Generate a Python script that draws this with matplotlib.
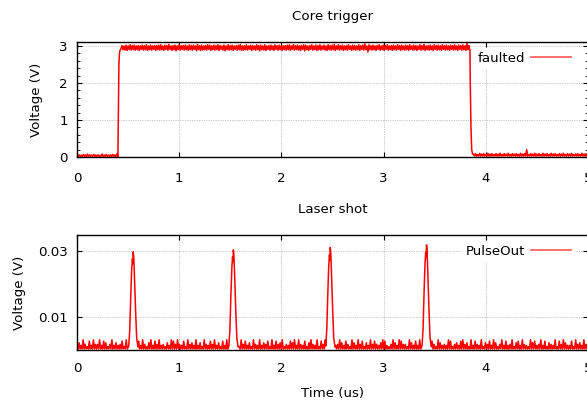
import numpy as np
import matplotlib
matplotlib.use("Agg")
import matplotlib.pyplot as plt
from matplotlib.ticker import MultipleLocator, FixedLocator
from matplotlib.lines import Line2D

plt.rcParams['font.family'] = ['DejaVu Sans']
FS = 9.6

# ---------------- data ----------------
x_ticks = [0, 1, 2, 3, 4, 5]
top_yticks = [0, 1, 2, 3]
bot_yticks = [0.01, 0.03]
bot_yticklabels = ["0.01", "0.03"]

# Core trigger ("faulted"): baseline, rising edge, plateau, falling edge, baseline
pre_span = (0.0, 0.39)
pre_hi_digits = "3425364253 4263524536"
pre_levels = [0.04, 0.045, 0.05, 0.055, 0.06, 0.07, 0.08, 0.09, 0.10, 0.11]
pre_lo = 0.015

rise_t = [0.400, 0.405, 0.410, 0.415, 0.420, 0.430]
rise_v = [0.04, 1.20, 2.50, 2.80, 2.88, 2.93]

plateau_span = (0.44, 3.835)
plat_hi_digits = ("4353645343 5463534456 3547345364 4536453745 3465354643 "
                  "5364534573 4635436453 6345364534 4563745346 5346354635 "
                  "3645736453 4635436458 3645346354 6345364535 4635436473 "
                  "4536453645 3546354639 4")
plat_lo_digits = ("3452434352 4353425343 5242536342 4353426354 3425343524 "
                  "6343524354 3425343634 5243524353 4352434526 3524353424 "
                  "5343524353 4253435243 8343524352 4353425343 5243524353 "
                  "4352435243 5243524353 4")
plat_hi_levels = [2.97, 2.985, 2.995, 3.005, 3.015, 3.025, 3.035, 3.045, 3.06, 3.08]
plat_lo_levels = [2.93, 2.92, 2.91, 2.90, 2.89, 2.88, 2.87, 2.86, 2.84, 2.82]

fall_t = [3.840, 3.848, 3.855, 3.862, 3.870]
fall_v = [2.93, 2.00, 0.80, 0.20, 0.08]

post_span = (3.88, 5.0)
post_hi_digits = ("3425342534 2435243524 3425349243 5342534253 4243524352 "
                  "3425342")
post_levels = [0.05, 0.06, 0.07, 0.08, 0.09, 0.10, 0.11, 0.13, 0.16, 0.20]
post_lo = 0.025

# Laser shot ("PulseOut"): noisy baseline + four pulses
base_span = (0.0, 5.0)
base_hi_digits = ("1315204152 2514302513 1240531521 4152035142 5120315425 "
                  "2140523151 3052142513 0415235120 5241305215 1324051423 "
                  "5021435152 1403521504 2513041253 1420531524 0315242135 "
                  "4102531542 2053141520 3514205312 1540231452 3051421503 "
                  "2415302514 1250341521 0534125140 3215042531 1405231524")
base_levels = [0.0010, 0.0014, 0.0017, 0.0022, 0.0027, 0.0031]
base_lo = 0.0003

pulse_centers = [0.550, 1.530, 2.478, 3.420]
pulse_peaks = [0.0297, 0.0303, 0.0310, 0.0318]
pulse_offsets = [-0.044, -0.034, -0.024, -0.015, -0.008, -0.003, 0.0,
                 0.005, 0.010, 0.016, 0.024, 0.034, 0.046]
pulse_shape = [0.04, 0.20, 0.55, 0.82, 0.93, 0.88, 1.0,
               0.95, 0.82, 0.62, 0.38, 0.12, 0.03]
pulse_halfwidth = 0.048


def env(span, hi_digits, hi_levels, lo):
    d = [int(c) for c in hi_digits.replace(" ", "")]
    t_hi = np.linspace(span[0], span[1], len(d))
    v_hi = [hi_levels[k] for k in d]
    step = (t_hi[1] - t_hi[0]) if len(d) > 1 else 0.01
    t_lo = t_hi + step / 2
    t = np.empty(2 * len(d))
    v = np.empty(2 * len(d))
    t[0::2], t[1::2] = t_hi, t_lo
    v[0::2], v[1::2] = v_hi, lo
    return t, v


def env2(span, hi_digits, hi_levels, lo_digits, lo_levels):
    dh = [int(c) for c in hi_digits.replace(" ", "")]
    dl = [int(c) for c in lo_digits.replace(" ", "")]
    n = min(len(dh), len(dl))
    t_hi = np.linspace(span[0], span[1], n)
    step = t_hi[1] - t_hi[0]
    t = np.empty(2 * n)
    v = np.empty(2 * n)
    t[0::2], t[1::2] = t_hi, t_hi + step / 2
    v[0::2] = [hi_levels[k] for k in dh[:n]]
    v[1::2] = [lo_levels[k] for k in dl[:n]]
    return t, v


# assemble top series
t1, v1 = env(pre_span, pre_hi_digits, pre_levels, pre_lo)
t2, v2 = env2(plateau_span, plat_hi_digits, plat_hi_levels, plat_lo_digits, plat_lo_levels)
t3, v3 = env(post_span, post_hi_digits, post_levels, post_lo)
top_t = np.concatenate([t1, rise_t, t2, fall_t, t3])
top_v = np.concatenate([v1, rise_v, v2, fall_v, v3])
o = np.argsort(top_t, kind="stable")
top_t, top_v = top_t[o], top_v[o]

# assemble bottom series
bt, bv = env(base_span, base_hi_digits, base_levels, base_lo)
keep = np.ones_like(bt, dtype=bool)
for c in pulse_centers:
    keep &= np.abs(bt - c) > pulse_halfwidth
bt, bv = bt[keep], bv[keep]
pt, pv = [], []
for c, p in zip(pulse_centers, pulse_peaks):
    for off, f in zip(pulse_offsets, pulse_shape):
        pt.append(c + off)
        pv.append(p * f)
bot_t = np.concatenate([bt, pt])
bot_v = np.concatenate([bv, pv])
o = np.argsort(bot_t, kind="stable")
bot_t, bot_v = bot_t[o], bot_v[o]

# ---------------- figure ----------------
W, H = 587, 403
fig = plt.figure(figsize=(W / 100, H / 100), dpi=100)
ax1 = fig.add_axes([77 / W, 1 - 157 / H, 511 / W, 115 / H])
ax2 = fig.add_axes([77 / W, 1 - 350 / H, 511 / W, 115 / H])

RED = "#ff0000"
ax1.plot(top_t, top_v, color=RED, lw=1.1, zorder=3)
ax2.plot(bot_t, bot_v, color=RED, lw=1.1, zorder=3)

for ax in (ax1, ax2):
    ax.set_xlim(0, 5)
    ax.xaxis.set_major_locator(FixedLocator(x_ticks))
    ax.set_xticklabels([str(v) for v in x_ticks], fontsize=FS)
    ax.tick_params(axis="both", which="major", direction="in", length=3.3,
                   width=0.8, top=True, right=True, labelsize=FS, color="black")
    ax.tick_params(axis="y", pad=6.5)
    ax.grid(True, color="#9a9a9a", linestyle=(0, (1, 1.5)), linewidth=0.5, zorder=1)
    for s in ax.spines.values():
        s.set_linewidth(1.0)
        s.set_color("black")
        s.set_zorder(4)
    ax.set_axisbelow(True)

ax1.tick_params(axis="x", pad=10.5)
ax2.tick_params(axis="x", pad=9.0)

ax1.set_ylim(0, 3.11)
ax1.yaxis.set_major_locator(FixedLocator(top_yticks))
ax1.set_yticklabels([str(v) for v in top_yticks], fontsize=FS)
ax1.yaxis.set_minor_locator(MultipleLocator(0.2))
ax1.tick_params(axis="y", which="minor", direction="in", length=2.0, width=0.6,
                right=True, left=True)

ax2.set_ylim(0, 0.0348)
ax2.yaxis.set_major_locator(FixedLocator(bot_yticks))
ax2.set_yticklabels(bot_yticklabels, fontsize=FS)

ax1.set_title("Core trigger", fontsize=FS, pad=16)
ax2.set_title("Laser shot", fontsize=FS, pad=16)
ax1.set_ylabel("Voltage (V)", fontsize=FS)
ax2.set_ylabel("Voltage (V)", fontsize=FS)
ax1.yaxis.set_label_coords(-0.066, 0.5)
ax2.yaxis.set_label_coords(-0.099, 0.5)
ax2.set_xlabel("Time (us)", fontsize=FS, va="center")
ax2.xaxis.set_label_coords(0.5, -0.375)

for ax, lab in ((ax1, "faulted"), (ax2, "PulseOut")):
    h = Line2D([], [], color="#ff6464", lw=1.3)
    leg = ax.legend([h], [lab], loc="upper right", bbox_to_anchor=(0.975, 0.95),
                    frameon=True, fancybox=False, edgecolor="none",
                    facecolor="white", framealpha=1, markerfirst=False,
                    handlelength=3.0, handletextpad=0.45, borderpad=0.3,
                    borderaxespad=0, fontsize=FS)
    leg.set_zorder(5)

fig.savefig("out.png", dpi=100)
